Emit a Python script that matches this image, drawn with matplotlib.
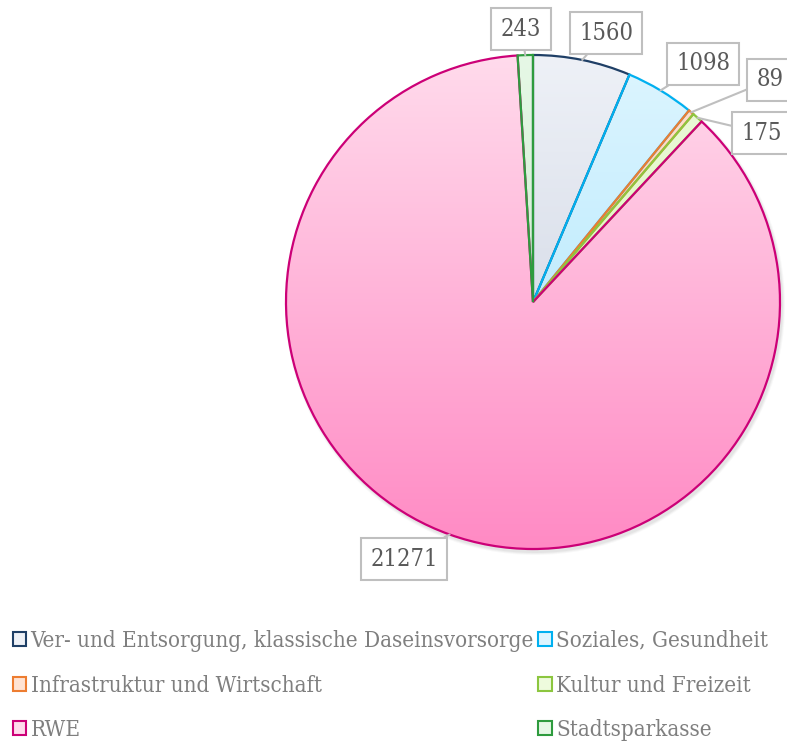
import numpy as np
import matplotlib
matplotlib.use("Agg")
import matplotlib.pyplot as plt
from matplotlib.colors import LinearSegmentedColormap
from matplotlib.patches import Patch, Circle

# data
categories = ["Ver- und Entsorgung, klassische Daseinsvorsorge", "Soziales, Gesundheit",
              "Infrastruktur und Wirtschaft", "Kultur und Freizeit", "RWE", "Stadtsparkasse"]
# slices go clockwise from 12 o'clock in this order
values = [1560, 1098, 89, 175, 21271, 243]

edge_colors = ["#1F3F66", "#00B0F0", "#ED7D31", "#8CC63F", "#CC0077", "#2E9B3E"]
top_colors = ["#EEF1F7", "#DDF5FF", "#FFE3D3", "#EEFBDD", "#FFDBEC", "#E6F8E6"]
bot_colors = ["#C5CDDD", "#A6E4FC", "#F9B995", "#CDEFA5", "#FF8AC4", "#BDE6BF"]

# label box centres (pixel coords from top-left)
label_pos = [(606, 33), (703, 64), (770, 80), (762, 133), (404, 559), (521, 29)]

W, H = 787, 743
fig = plt.figure(figsize=(W / 100, H / 100), dpi=100)
ax = fig.add_axes([0, 0, 1, 1])
ax.set_aspect("equal")

cx, cy, r = 533, H - 302, 247

# soft shadow
for k, a in zip([6, 4, 2], [0.05, 0.07, 0.09]):
    ax.add_patch(Circle((cx + 2, cy - 3), r + k * 0.5, facecolor="#808080", edgecolor="none",
                        alpha=a, zorder=0))

wedges, _ = ax.pie(values, startangle=90, counterclock=False, radius=r, center=(cx, cy),
                   frame=True, wedgeprops=dict(facecolor="none", linewidth=1.6))

grad = np.linspace(1, 0, 256).reshape(-1, 1)
for i, w in enumerate(wedges):
    w.set_edgecolor(edge_colors[i])
    w.set_zorder(3)
    cmap = LinearSegmentedColormap.from_list("g%d" % i, [top_colors[i], bot_colors[i]])
    im = ax.imshow(grad, cmap=cmap, extent=(cx - r, cx + r, cy - r, cy + r), origin="lower",
                   aspect="auto", zorder=2, vmin=0, vmax=1)
    im.set_clip_path(w)

ax.set_xlim(0, W)
ax.set_ylim(0, H)
ax.axis("off")

# callout labels
for i, w in enumerate(wedges):
    mid = np.deg2rad((w.theta1 + w.theta2) / 2)
    px, py = cx + r * np.cos(mid), cy + r * np.sin(mid)
    tx, ty = label_pos[i]
    ax.annotate(str(values[i]), xy=(px, py), xytext=(tx, H - ty),
                ha="center", va="center", fontsize=17, color="#595959",
                family="DejaVu Serif", fontstretch="condensed",
                bbox=dict(boxstyle="square,pad=0.4", facecolor="white", edgecolor="#BFBFBF", linewidth=1.5),
                arrowprops=dict(arrowstyle="-", color="#BFBFBF", linewidth=1.5, shrinkA=0, shrinkB=0),
                zorder=5, annotation_clip=False)

# legend
handles = [Patch(facecolor=top_colors[i], edgecolor=edge_colors[i], linewidth=1.5) for i in range(6)]
order = [0, 2, 4, 1, 3, 5]
leg = fig.legend([handles[i] for i in order], [categories[i] for i in order],
                 loc="upper left", bbox_to_anchor=(0.005, 1 - 621 / H), ncol=2, frameon=False,
                 prop=dict(family="DejaVu Serif", stretch="condensed", size=16),
                 handlelength=0.6, handleheight=0.6, handletextpad=0.2,
                 columnspacing=0.2, labelspacing=1.02, borderaxespad=0)
for t in leg.get_texts():
    t.set_color("#7F7F7F")

fig.savefig("out.png", dpi=100)
